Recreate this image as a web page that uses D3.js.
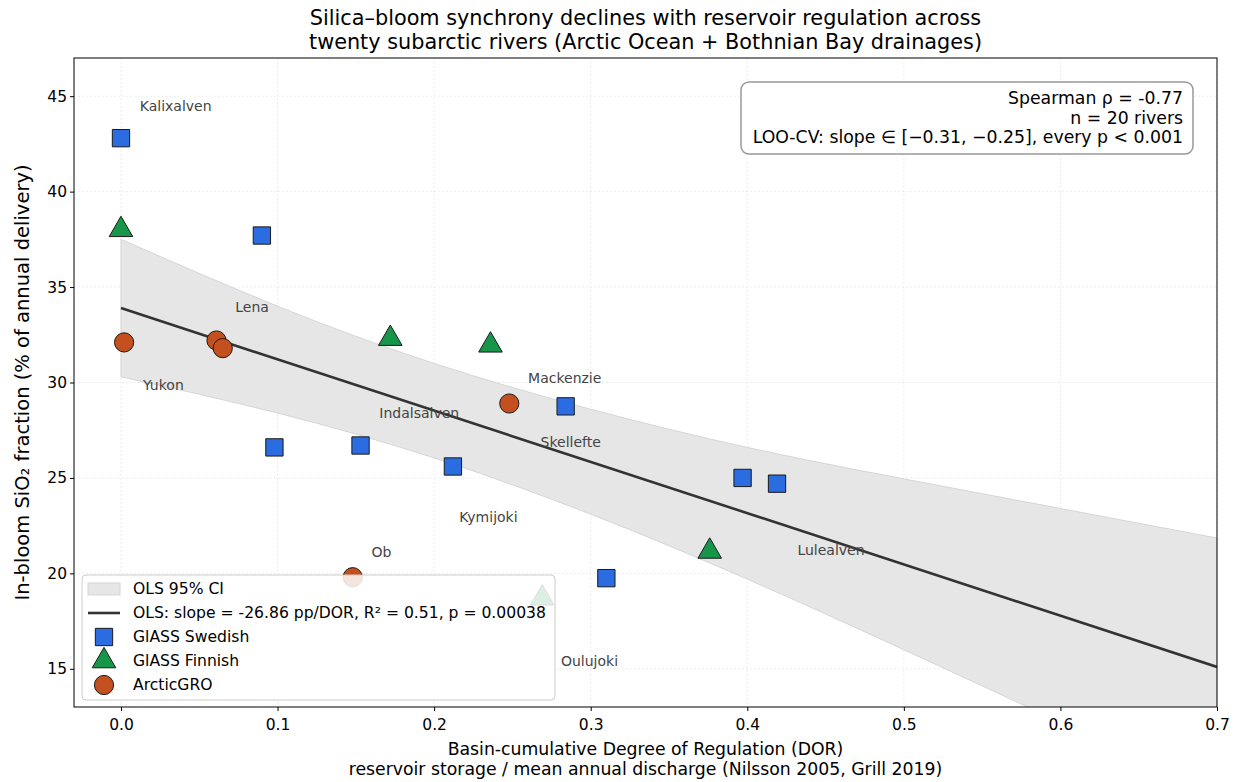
<!DOCTYPE html>
<html>
<head>
<meta charset="utf-8">
<script src="https://cdn.jsdelivr.net/npm/d3@7"></script>
<style>
  body { margin: 0; background: #fff; }
  svg text { font-family: "DejaVu Sans", sans-serif; }
</style>
</head>
<body>
<script>
// ---- data ----
// GlASS Swedish rivers (DOR, in-bloom SiO2 %)
const swedishDOR = [0.000, 0.090, 0.098, 0.153, 0.212, 0.284, 0.310, 0.397, 0.419];
const swedishSi  = [42.8, 37.7, 26.6, 26.7, 25.6, 28.75, 19.75, 25.0, 24.7];

// GlASS Finnish rivers
const finnishDOR = [0.000, 0.172, 0.236, 0.376, 0.269];
const finnishSi  = [38.0, 32.3, 31.95, 21.15, 18.7];

// ArcticGRO rivers
const arcticDOR = [0.002, 0.061, 0.065, 0.248, 0.148];
const arcticSi  = [32.1, 32.2, 31.8, 28.9, 19.8];

// river name labels (anchored at their left edge, in data units)
const riverNames = ["Kalixalven", "Lena", "Yukon", "Mackenzie", "Indalsalven",
                    "Skellefte", "Kymijoki", "Ob", "Lulealven", "Oulujoki"];
const riverLabelDOR = [0.012, 0.073, 0.014, 0.260, 0.165, 0.268, 0.216, 0.160, 0.432, 0.281];
const riverLabelSi  = [44.5, 33.95, 29.85, 30.25, 28.4, 26.9, 22.95, 21.1, 21.2, 15.4];

// OLS fit and its 95% CI, read at a few DOR values
const olsIntercept = 33.9;
const olsSlope = -26.86;
const ciDOR   = [0.0, 0.1, 0.2, 0.3, 0.4, 0.5, 0.6, 0.7];
const ciUpper = [37.5, 34.0, 31.0, 28.6, 26.6, 24.95, 23.4, 21.85];
const ciLower = [30.3, 28.4, 26.05, 23.1, 19.7, 16.0, 12.2, 8.35];

const xTicks = [0, 0.1, 0.2, 0.3, 0.4, 0.5, 0.6, 0.7];
const yTicks = [15, 20, 25, 30, 35, 40, 45];

const statLines = ["Spearman ρ = -0.77", "n = 20 rivers",
                   "LOO-CV: slope ∈ [−0.31, −0.25], every p < 0.001"];

// ---- layout ----
const width = 1240, height = 782;
const margin = {left: 74, right: 23, top: 58, bottom: 75};
const plotW = width - margin.left - margin.right;
const plotH = height - margin.top - margin.bottom;

const colors = {swe: "#2b6de0", fin: "#17964a", arc: "#c4501f"};

const svg = d3.select("body").append("svg")
  .attr("width", width)
  .attr("height", height);

const x = d3.scaleLinear().domain([-0.03, 0.7]).range([0, plotW]);
const y = d3.scaleLinear().domain([13, 47]).range([plotH, 0]);

const g = svg.append("g").attr("transform", `translate(${margin.left},${margin.top})`);

g.append("clipPath").attr("id", "plotclip")
  .append("rect").attr("width", plotW).attr("height", plotH);

// grid
g.append("g").selectAll("line.gx").data(xTicks).join("line")
  .attr("x1", d => x(d)).attr("x2", d => x(d))
  .attr("y1", 0).attr("y2", plotH)
  .attr("stroke", "#e0e0e0").attr("stroke-width", 0.8).attr("stroke-dasharray", "1.5,2.5");
g.append("g").selectAll("line.gy").data(yTicks).join("line")
  .attr("y1", d => y(d)).attr("y2", d => y(d))
  .attr("x1", 0).attr("x2", plotW)
  .attr("stroke", "#e0e0e0").attr("stroke-width", 0.8).attr("stroke-dasharray", "1.5,2.5");

const plot = g.append("g").attr("clip-path", "url(#plotclip)");

// CI band
const ciData = ciDOR.map((d, i) => ({x: d, lo: ciLower[i], hi: ciUpper[i]}));
const area = d3.area()
  .x(d => x(d.x)).y0(d => y(d.lo)).y1(d => y(d.hi))
  .curve(d3.curveNatural);
plot.append("path").datum(ciData)
  .attr("d", area)
  .attr("fill", "#e6e6e6")
  .attr("stroke", "#d6d6d6").attr("stroke-width", 1);

// OLS line
const fitEnds = [0, 0.7];
plot.append("line")
  .attr("x1", x(fitEnds[0])).attr("y1", y(olsIntercept + olsSlope * fitEnds[0]))
  .attr("x2", x(fitEnds[1])).attr("y2", y(olsIntercept + olsSlope * fitEnds[1]))
  .attr("stroke", "#333").attr("stroke-width", 2.6);

// river labels
plot.append("g").selectAll("text").data(riverNames).join("text")
  .attr("x", (d, i) => x(riverLabelDOR[i]))
  .attr("y", (d, i) => y(riverLabelSi[i]))
  .attr("dy", "0.35em")
  .attr("font-size", 14)
  .attr("fill", "#444")
  .text(d => d);

// markers
const sym = {
  swe: d3.symbol().type(d3.symbolSquare).size(300),
  fin: d3.symbol().type(d3.symbolTriangle).size(240),
  arc: d3.symbol().type(d3.symbolCircle).size(290)
};
function drawSeries(key, xs, ys) {
  plot.append("g").selectAll("path").data(xs).join("path")
    .attr("transform", (d, i) => `translate(${x(d)},${y(ys[i])})`)
    .attr("d", sym[key]())
    .attr("fill", colors[key])
    .attr("stroke", "#1a1a1a").attr("stroke-width", 1);
}
drawSeries("swe", swedishDOR, swedishSi);
drawSeries("fin", finnishDOR, finnishSi);
drawSeries("arc", arcticDOR, arcticSi);

// axes
const xAxis = d3.axisBottom(x).tickValues(xTicks).tickFormat(d3.format(".1f")).tickSizeOuter(0).tickSize(4);
const yAxis = d3.axisLeft(y).tickValues(yTicks).tickSizeOuter(0).tickSize(4);
const gx = g.append("g").attr("transform", `translate(0,${plotH})`).call(xAxis);
const gy = g.append("g").call(yAxis);
[gx, gy].forEach(a => {
  a.select(".domain").remove();
  a.selectAll("text").attr("font-size", 15.5).attr("fill", "#000").style("font-family", "DejaVu Sans");
  a.selectAll("line").attr("stroke", "#000");
});
gx.selectAll("text").attr("dy", "1.0em");

// frame
g.append("rect").attr("width", plotW).attr("height", plotH)
  .attr("fill", "none").attr("stroke", "#000").attr("stroke-width", 1);

// stats box
const statBox = g.append("g");
const sbRight = plotW - 24, sbTop = 24;
statBox.append("rect")
  .attr("x", 741 - margin.left).attr("y", sbTop)
  .attr("width", sbRight - (741 - margin.left)).attr("height", 72)
  .attr("rx", 8)
  .attr("fill", "#fff").attr("stroke", "#999").attr("stroke-width", 1.5);
statBox.selectAll("text").data(statLines).join("text")
  .attr("x", sbRight - 10)
  .attr("y", (d, i) => sbTop + 16 + i * 19.5)
  .attr("dy", "0.35em")
  .attr("text-anchor", "end")
  .attr("font-size", 17.3)
  .text(d => d);

// legend
const legend = g.append("g").attr("transform", `translate(8,${plotH - 132})`);
legend.append("rect")
  .attr("width", 473).attr("height", 125).attr("rx", 4)
  .attr("fill", "#fff").attr("fill-opacity", 0.85)
  .attr("stroke", "#ccc").attr("stroke-width", 1);
const legItems = [
  {label: "OLS 95% CI", kind: "band"},
  {label: "OLS: slope = -26.86 pp/DOR, R² = 0.51, p = 0.00038", kind: "line"},
  {label: "GlASS Swedish", kind: "swe"},
  {label: "GlASS Finnish", kind: "fin"},
  {label: "ArcticGRO", kind: "arc"}
];
const li = legend.selectAll("g.item").data(legItems).join("g")
  .attr("transform", (d, i) => `translate(0,${14 + i * 24})`);
li.each(function(d) {
  const s = d3.select(this);
  if (d.kind === "band") {
    s.append("rect").attr("x", 6).attr("y", -6).attr("width", 32).attr("height", 12)
      .attr("fill", "#e6e6e6").attr("stroke", "#d6d6d6");
  } else if (d.kind === "line") {
    s.append("line").attr("x1", 6).attr("x2", 38).attr("stroke", "#333").attr("stroke-width", 2.6);
  } else {
    s.append("path").attr("transform", "translate(22,0)")
      .attr("d", sym[d.kind]())
      .attr("fill", colors[d.kind]).attr("stroke", "#1a1a1a").attr("stroke-width", 1);
  }
  s.append("text").attr("x", 51).attr("dy", "0.35em").attr("font-size", 15.6).text(d.label);
});

// titles
svg.append("text")
  .attr("x", margin.left + plotW / 2).attr("y", 18)
  .attr("text-anchor", "middle").attr("dy", "0.35em").attr("font-size", 20.8)
  .text("Silica–bloom synchrony declines with reservoir regulation across");
svg.append("text")
  .attr("x", margin.left + plotW / 2).attr("y", 42)
  .attr("text-anchor", "middle").attr("dy", "0.35em").attr("font-size", 20.8)
  .text("twenty subarctic rivers (Arctic Ocean + Bothnian Bay drainages)");

svg.append("text")
  .attr("x", margin.left + plotW / 2).attr("y", 749)
  .attr("text-anchor", "middle").attr("dy", "0.35em").attr("font-size", 17.3)
  .text("Basin-cumulative Degree of Regulation (DOR)");
svg.append("text")
  .attr("x", margin.left + plotW / 2).attr("y", 769)
  .attr("text-anchor", "middle").attr("dy", "0.35em").attr("font-size", 17.3)
  .text("reservoir storage / mean annual discharge (Nilsson 2005, Grill 2019)");

svg.append("text")
  .attr("transform", `translate(22,${margin.top + plotH / 2}) rotate(-90)`)
  .attr("text-anchor", "middle").attr("dy", "0.35em").attr("font-size", 19.5)
  .text("In-bloom SiO₂ fraction (% of annual delivery)");
</script>
</body>
</html>
